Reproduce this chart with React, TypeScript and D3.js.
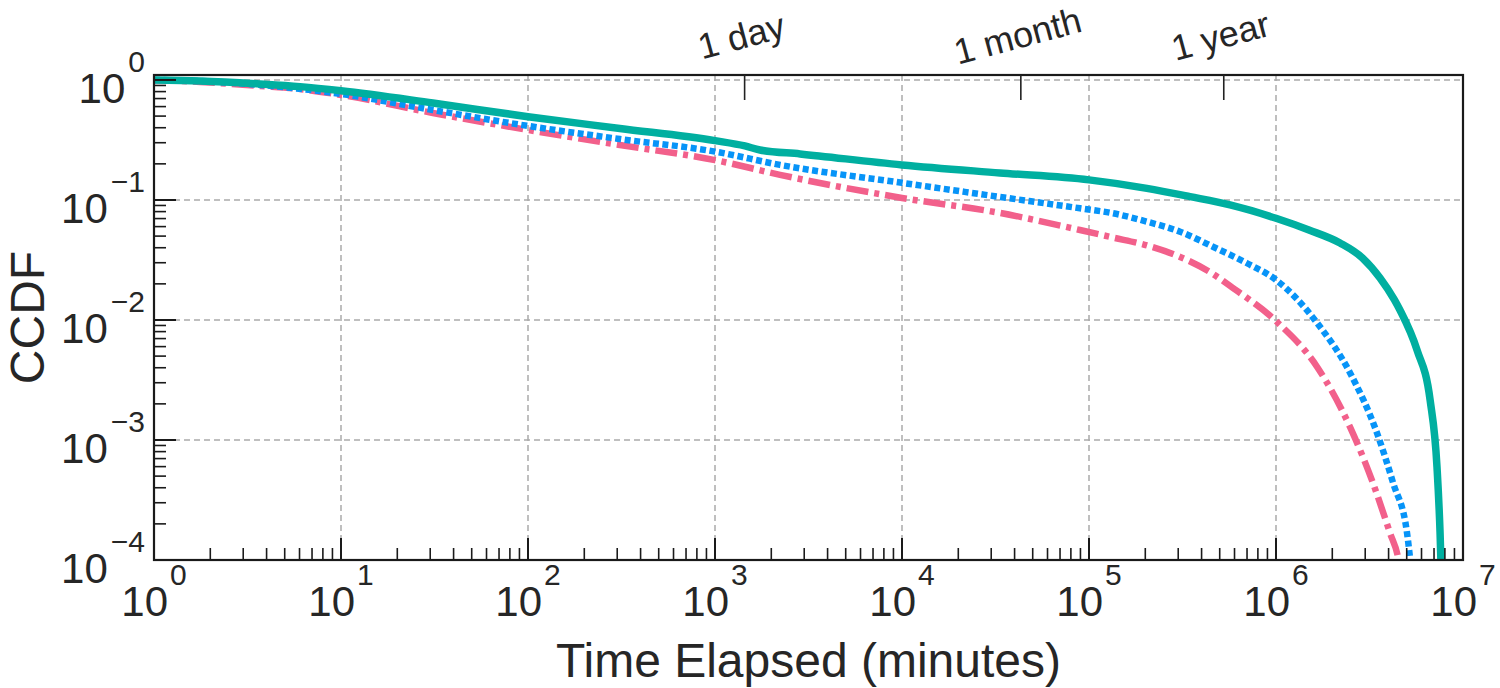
import React, { useEffect, useRef } from "react";
import * as d3 from "d3";

// CCDF of elapsed time (minutes)
const tealMinutes = [1, 1.76, 3.69, 6.04, 10, 31, 100, 310, 1000, 1445, 1740, 2850, 10000, 33400, 1e5, 204000, 347000, 568000, 1e6, 1.5e6, 2.2e6, 2.9e6, 3.6e6, 4.3e6, 4.6e6, 5.68e6, 6.67e6, 7.26e6, 7.54e6, 7.65e6];
const tealCcdf = [1, 0.981, 0.926, 0.88, 0.814, 0.643, 0.494, 0.394, 0.312, 0.282, 0.261, 0.242, 0.196, 0.168, 0.147, 0.125, 0.1066, 0.0909, 0.0704, 0.0562, 0.0438, 0.0329, 0.0224, 0.0147, 0.0121, 0.0056, 0.00215, 0.000596, 0.000168, 0.00008];

const blueMinutes = [1, 1.76, 3.69, 10, 31, 100, 310, 1000, 2228, 10000, 33400, 89500, 134000, 204000, 307000, 460000, 700000, 1e6, 1.66e6, 2.49e6, 3.47e6, 4.23e6, 5.02e6, 5.3e6];
const blueCcdf = [1, 0.981, 0.909, 0.765, 0.562, 0.414, 0.322, 0.253, 0.196, 0.139, 0.106, 0.0852, 0.0775, 0.066, 0.0544, 0.0408, 0.0297, 0.0216, 0.00944, 0.00362, 0.00114, 0.000438, 0.000168, 0.00008];

const pinkMinutes = [1, 1.76, 3.69, 6.04, 10, 31, 100, 310, 1000, 2228, 10000, 33400, 89500, 134000, 204000, 307000, 460000, 568000, 1e6, 1.66e6, 2.49e6, 3.3e6, 4.07e6, 4.49e6, 4.7e6];
const pinkCcdf = [1, 0.962, 0.891, 0.841, 0.75, 0.531, 0.383, 0.287, 0.215, 0.162, 0.104, 0.078, 0.0562, 0.0487, 0.0418, 0.0335, 0.0242, 0.0192, 0.0098, 0.00406, 0.00128, 0.000438, 0.000168, 0.000106, 0.00007];

const xExponents = [0, 1, 2, 3, 4, 5, 6, 7];
const yExponents = [0, -1, -2, -3, -4];

const topMarks = [
  { label: "1 day", minutes: 1440 },
  { label: "1 month", minutes: 43200 },
  { label: "1 year", minutes: 525600 },
];

const FONT = "'Liberation Sans', Arial, Helvetica, sans-serif";
const TEXT = "#262626";

const App: React.FC = () => {
  const ref = useRef<SVGSVGElement | null>(null);
  const width = 1500;
  const height = 688;

  useEffect(() => {
    const margin = { top: 75, right: 37, bottom: 128, left: 154 };
    const w = width - margin.left - margin.right;
    const h = height - margin.top - margin.bottom;

    d3.select(ref.current).selectAll("*").remove();

    const root = d3.select(ref.current).attr("width", width).attr("height", height);
    const svg = root.append("g").attr("transform", `translate(${margin.left},${margin.top})`);

    const x = d3.scaleLog().domain([1, 1e7]).range([0, w]);
    const y = d3.scaleLog().domain([1e-4, 1.1]).range([h, 0]);

    root
      .append("defs")
      .append("clipPath")
      .attr("id", "plot-clip")
      .append("rect")
      .attr("width", w)
      .attr("height", h);

    // Grid
    xExponents.slice(1, -1).forEach((e) => {
      svg
        .append("line")
        .attr("x1", x(10 ** e))
        .attr("x2", x(10 ** e))
        .attr("y1", 0)
        .attr("y2", h)
        .attr("stroke", "#aaaaaa")
        .attr("stroke-width", 1.5)
        .attr("stroke-dasharray", "6,4");
    });
    yExponents.slice(0, -1).forEach((e) => {
      svg
        .append("line")
        .attr("x1", 0)
        .attr("x2", w)
        .attr("y1", y(10 ** e))
        .attr("y2", y(10 ** e))
        .attr("stroke", "#aaaaaa")
        .attr("stroke-width", 1.5)
        .attr("stroke-dasharray", "6,4");
    });

    // Curves
    const line = d3
      .line<[number, number]>()
      .x((d) => x(d[0]))
      .y((d) => y(d[1]))
      .curve(d3.curveMonotoneX);

    const series = [
      { xs: pinkMinutes, ys: pinkCcdf, color: "#F2608B", width: 6.5, dash: "22,6,5,6" },
      { xs: blueMinutes, ys: blueCcdf, color: "#0794F8", width: 6.5, dash: "6,3.5" },
      { xs: tealMinutes, ys: tealCcdf, color: "#00AFA0", width: 7.5, dash: null },
    ];

    const curves = svg.append("g").attr("clip-path", "url(#plot-clip)");
    series.forEach((s) => {
      const pts: [number, number][] = s.xs.map((v, i) => [v, s.ys[i]]);
      const p = curves
        .append("path")
        .attr("d", line(pts))
        .attr("fill", "none")
        .attr("stroke", s.color)
        .attr("stroke-width", s.width);
      if (s.dash) p.attr("stroke-dasharray", s.dash);
    });

    // Minor / major ticks (inward)
    const axisColor = "#1a1a1a";
    for (let e = 0; e < 7; e++) {
      for (let m = 2; m <= 9; m++) {
        const xp = x(m * 10 ** e);
        svg.append("line").attr("x1", xp).attr("x2", xp).attr("y1", h).attr("y2", h - 12)
          .attr("stroke", axisColor).attr("stroke-width", 1.6);
      }
    }
    xExponents.slice(1, -1).forEach((e) => {
      const xp = x(10 ** e);
      svg.append("line").attr("x1", xp).attr("x2", xp).attr("y1", h).attr("y2", h - 22)
        .attr("stroke", axisColor).attr("stroke-width", 2);
    });
    for (let e = -4; e < 0; e++) {
      for (let m = 2; m <= 9; m++) {
        const yp = y(m * 10 ** e);
        svg.append("line").attr("x1", 0).attr("x2", 12).attr("y1", yp).attr("y2", yp)
          .attr("stroke", axisColor).attr("stroke-width", 1.6);
      }
    }
    yExponents.slice(0, -1).forEach((e) => {
      const yp = y(10 ** e);
      svg.append("line").attr("x1", 0).attr("x2", 22).attr("y1", yp).attr("y2", yp)
        .attr("stroke", axisColor).attr("stroke-width", 2);
    });

    // Frame
    svg
      .append("rect")
      .attr("width", w)
      .attr("height", h)
      .attr("fill", "none")
      .attr("stroke", axisColor)
      .attr("stroke-width", 2.2);

    // Top reference ticks
    topMarks.forEach((d) => {
      const xp = x(d.minutes);
      svg.append("line").attr("x1", xp).attr("x2", xp).attr("y1", 0).attr("y2", 25)
        .attr("stroke", "#222").attr("stroke-width", 1.6);
      svg
        .append("text")
        .attr("x", xp)
        .attr("y", -27)
        .attr("text-anchor", "middle")
        .attr("transform", `rotate(-15, ${xp}, -27)`)
        .style("font-family", FONT)
        .style("font-size", "36px")
        .style("fill", TEXT)
        .text(d.label);
    });

    // X tick labels
    xExponents.forEach((e) => {
      const t = svg
        .append("text")
        .attr("x", x(10 ** e))
        .attr("y", h + 56)
        .attr("text-anchor", "middle")
        .style("font-family", FONT)
        .style("fill", TEXT);
      t.append("tspan").style("font-size", "42px").text("10");
      t.append("tspan").attr("dy", -31).attr("dx", 2).style("font-size", "30px").text(String(e));
    });

    // Y tick labels
    yExponents.forEach((e) => {
      const t = svg
        .append("text")
        .attr("x", -9)
        .attr("y", y(10 ** e) + 23)
        .attr("text-anchor", "end")
        .style("font-family", FONT)
        .style("fill", TEXT);
      t.append("tspan").style("font-size", "42px").text("10");
      t.append("tspan")
        .attr("dy", -31)
        .attr("dx", 3)
        .style("font-size", "30px")
        .text(e === 0 ? "0" : `\u2212${Math.abs(e)}`);
    });

    // Axis titles
    svg
      .append("text")
      .attr("x", w / 2)
      .attr("y", h + 117)
      .attr("text-anchor", "middle")
      .style("font-family", FONT)
      .style("font-size", "48px")
      .style("fill", TEXT)
      .text("Time Elapsed (minutes)");

    svg
      .append("text")
      .attr("transform", `translate(${-110},${h / 2}) rotate(-90)`)
      .attr("text-anchor", "middle")
      .style("font-family", FONT)
      .style("font-size", "48px")
      .style("fill", TEXT)
      .text("CCDF");
  }, []);

  return (
    <svg
      ref={ref}
      style={{ position: "absolute", left: 0, top: 0, background: "#fff" }}
    ></svg>
  );
};

export default App;
